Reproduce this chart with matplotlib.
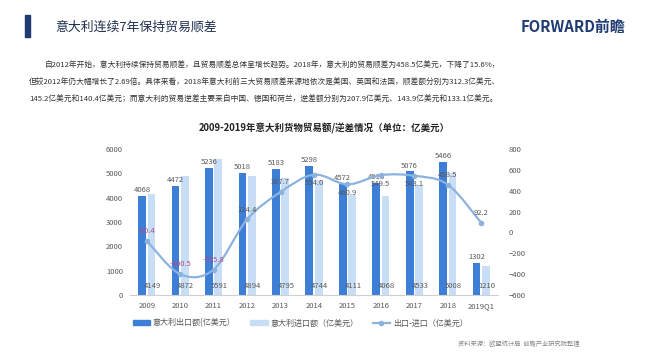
import matplotlib
matplotlib.use("Agg")
import matplotlib.pyplot as plt
from matplotlib.path import Path
from matplotlib.patches import PathPatch, Rectangle
from matplotlib.lines import Line2D
from matplotlib.patches import Patch
import numpy as np

plt.rcParams['font.family'] = ['Noto Sans CJK SC', 'DejaVu Sans']

years = ['2009', '2010', '2011', '2012', '2013', '2014', '2015', '2016', '2017', '2018', '2019Q1']
exports = [4068, 4472, 5236, 5018, 5183, 5298, 4572, 4618, 5076, 5466, 1302]
imports = [4149, 4872, 5591, 4894, 4795, 4744, 4111, 4068, 4533, 5008, 1210]
balance = [-80.4, -400.5, -355.8, 124.4, 387.7, 554.0, 460.9, 549.5, 543.1, 458.5, 92.2]
# label below the point for these years
below = ['2014', '2015', '2016', '2017']

c_dark = '#3d7fd6'
c_light = '#c8def6'
c_line = '#8cb2de'
c_text = '#595959'

fig = plt.figure(figsize=(6.5, 3.58), dpi=100)
fig.patch.set_facecolor('white')

# header
fig.patches.append(Rectangle((25 / 650, 1 - 37 / 358), 5 / 650, 22 / 358,
                             transform=fig.transFigure, color='#1f3b73'))
fig.text(55 / 650, 1 - 27 / 358, '意大利连续7年保持贸易顺差', fontsize=9.3,
         color='#1f2f4f', va='center')
fig.text(625 / 650, 1 - 27 / 358, 'FORWARD前瞻', fontsize=10.8, fontweight='bold',
         color='#1f3b73', va='center', ha='right')

para = ['自2012年开始，意大利持续保持贸易顺差，且贸易顺差总体呈增长趋势。2018年，意大利的贸易顺差为458.5亿美元，下降了15.6%，',
        '但较2012年仍大幅增长了2.69倍。具体来看，2018年意大利前三大贸易顺差来源地依次是美国、英国和法国，顺差额分别为312.3亿美元、',
        '145.2亿美元和140.4亿美元；而意大利的贸易逆差主要来自中国、德国和荷兰，逆差额分别为207.9亿美元、143.9亿美元和133.1亿美元。']
fig.text(45 / 650, 1 - 65 / 358, para[0], fontsize=5.55, color='#333333', va='center')
fig.text(29 / 650, 1 - 82 / 358, para[1], fontsize=5.55, color='#333333', va='center')
fig.text(29 / 650, 1 - 99 / 358, para[2], fontsize=5.55, color='#333333', va='center')

fig.text(324 / 650, 1 - 128 / 358, '2009-2019年意大利货物贸易额/逆差情况（单位：亿美元）',
         fontsize=6.8, fontweight='bold', color='#222222', ha='center', va='center')

ax = fig.add_axes([130 / 650, 1 - 295 / 358, 368 / 650, 146 / 358])
x = np.arange(len(years))
w = 0.23
ax.bar(x - 0.14, exports, w, color=c_dark, zorder=2)
ax.bar(x + 0.14, imports, w, color=c_light, zorder=2)
ax.set_ylim(0, 6000)
ax.set_xlim(-0.5, len(years) - 0.5)
ax.set_yticks(range(0, 6001, 1000))
ax.set_xticks(x)
ax.set_xticklabels(years)
for s in ['top', 'right', 'left']:
    ax.spines[s].set_visible(False)
ax.spines['bottom'].set_color('#d0d0d0')
ax.tick_params(length=0, labelsize=5.5, labelcolor=c_text)
ax.tick_params(axis='x', pad=5)
ax.tick_params(axis='y', pad=5)

for i in range(len(years)):
    ax.text(x[i] - 0.14, exports[i] + 80, str(exports[i]), ha='center', va='bottom',
            fontsize=5.5, color=c_text, zorder=5)
    ax.text(x[i] + 0.17, 370, str(imports[i]), ha='center', va='center',
            fontsize=5.5, color=c_text, zorder=5)

ax2 = ax.twinx()
ax2.set_ylim(-600, 800)
ax2.set_yticks(range(-600, 801, 200))
for s in ['top', 'right', 'left', 'bottom']:
    ax2.spines[s].set_visible(False)
ax2.tick_params(length=0, labelsize=5.5, labelcolor=c_text, pad=8)

# smooth line through balance points (Catmull-Rom as cubic bezier)
pts = np.column_stack([x, balance])
verts = [pts[0]]
codes = [Path.MOVETO]
n = len(pts)
for i in range(n - 1):
    p0 = pts[max(i - 1, 0)]
    p1 = pts[i]
    p2 = pts[i + 1]
    p3 = pts[min(i + 2, n - 1)]
    verts += [p1 + (p2 - p0) / 6, p2 - (p3 - p1) / 6, p2]
    codes += [Path.CURVE4] * 3
ax2.add_patch(PathPatch(Path(verts, codes), facecolor='none', edgecolor=c_line,
                        lw=1.6, zorder=3))
ax2.plot(x, balance, 'o', color=c_line, ms=3, zorder=4)

for i in range(len(years)):
    col = '#b04a86' if balance[i] < 0 else c_text
    if years[i] in below:
        ax2.text(x[i], balance[i] - 45, f'{balance[i]:.1f}', ha='center', va='top',
                 fontsize=5.5, color=col, zorder=5)
    else:
        ax2.text(x[i], balance[i] + 55, f'{balance[i]:.1f}', ha='center', va='bottom',
                 fontsize=5.5, color=col, zorder=5)

handles = [Patch(color=c_dark), Patch(color=c_light),
           Line2D([0], [0], color=c_line, marker='o', ms=3, lw=1.6)]
labels = ['意大利出口额(亿美元）', '意大利进口额（亿美元）', '出口-进口（亿美元）']
fig.legend(handles, labels, loc='center', bbox_to_anchor=(300 / 650, 1 - 323 / 358),
           ncol=3, frameon=False, fontsize=5.8, labelcolor=c_text,
           handlelength=2.2, handleheight=0.6, columnspacing=1.8, handletextpad=0.3)

fig.text(580 / 650, 1 - 344 / 358, '资料来源：欧盟统计局  前瞻产业研究院整理', fontsize=4.5,
         color='#888888', ha='right', va='center')

plt.savefig('out.png', dpi=100)
